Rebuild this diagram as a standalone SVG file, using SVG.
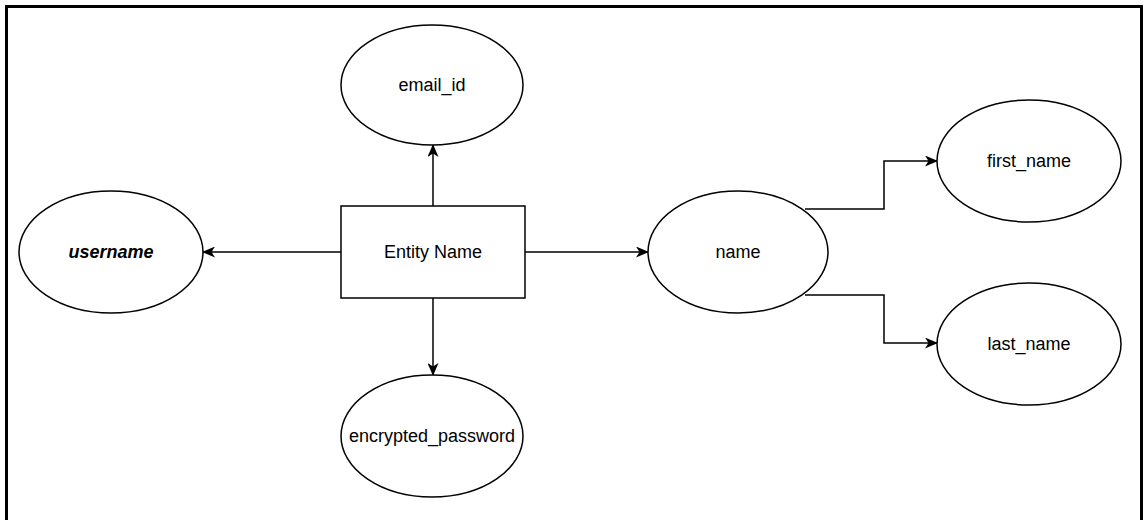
<svg xmlns="http://www.w3.org/2000/svg" width="1147" height="520" viewBox="0 0 1147 520">
<style>
.n{fill:#fff;stroke:#000;stroke-width:1.5}
.t{font-family:"Liberation Sans",Arial,sans-serif;font-size:18px;fill:#000;text-anchor:middle}
.c{fill:none;stroke:#000;stroke-width:1.5}
</style>
<defs>
<marker id="a" viewBox="0 0 13 11" refX="12" refY="5.5" markerWidth="13" markerHeight="11" markerUnits="userSpaceOnUse" orient="auto">
<path d="M0,0 L13,5.5 L0,11 L3.5,5.5 Z" fill="#000"/>
</marker>
</defs>
<rect x="0" y="0" width="1147" height="520" fill="#fff"/>
<rect x="6.5" y="6.5" width="1135" height="530" fill="none" stroke="#000" stroke-width="3"/>
<g id="connectors">
<path class="c" d="M433,206 V145" marker-end="url(#a)"/>
<path class="c" d="M433,298 V375" marker-end="url(#a)"/>
<path class="c" d="M341,252 H203" marker-end="url(#a)"/>
<path class="c" d="M525,252 H648" marker-end="url(#a)"/>
<path class="c" d="M805,209 H884 V161 H937" marker-end="url(#a)"/>
<path class="c" d="M805,295 H884 V343 H937" marker-end="url(#a)"/>
</g>
<g id="entity">
<rect class="n" x="341" y="206" width="184" height="92"/>
<text class="t" x="433" y="258">Entity Name</text>
</g>
<g id="email_id">
<ellipse class="n" cx="432" cy="85" rx="91" ry="60"/>
<text class="t" x="432" y="91">email_id</text>
</g>
<g id="username">
<ellipse class="n" cx="111" cy="252" rx="92" ry="61"/>
<text class="t" x="111" y="258" font-weight="bold" font-style="italic">username</text>
</g>
<g id="encrypted_password">
<ellipse class="n" cx="432" cy="436" rx="91" ry="61"/>
<text class="t" x="432" y="442">encrypted_password</text>
</g>
<g id="name">
<ellipse class="n" cx="738" cy="252" rx="90" ry="61"/>
<text class="t" x="738" y="258">name</text>
</g>
<g id="first_name">
<ellipse class="n" cx="1029" cy="161" rx="92" ry="61"/>
<text class="t" x="1029" y="167">first_name</text>
</g>
<g id="last_name">
<ellipse class="n" cx="1029" cy="344" rx="92" ry="61"/>
<text class="t" x="1029" y="350">last_name</text>
</g>
</svg>
